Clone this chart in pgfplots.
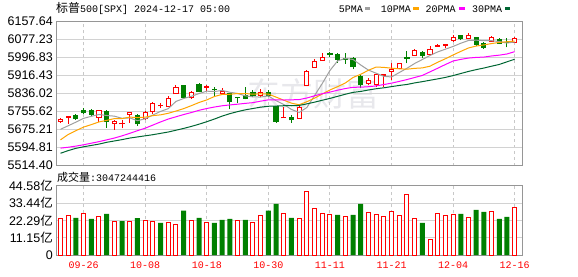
\documentclass[border=0pt]{standalone}
\usepackage{fontspec}
\setmainfont{Liberation Sans}
\newfontfamily\cjk{Noto Sans CJK SC}
\newfontfamily\mono{Liberation Mono}
\usepackage{pgfplots}
\usepackage{pgfplotstable}
\pgfplotsset{compat=1.18}
\definecolor{cred}{RGB}{255,0,0}
\definecolor{cgreen}{RGB}{0,128,0}
\definecolor{ma5}{RGB}{160,160,160}
\definecolor{ma10}{RGB}{255,165,0}
\definecolor{ma20}{RGB}{255,0,255}
\definecolor{ma30}{RGB}{0,102,51}
\definecolor{gridc}{RGB}{210,210,210}
\definecolor{gridv}{RGB}{200,200,200}
\definecolor{framec}{RGB}{150,150,150}
\definecolor{wm}{RGB}{232,232,236}
% up candles (close > open): index, open, high, low, close
\pgfplotstableread{
x O H L C
0 5713 5727 5706 5721
1 5731 5733 5700 5733
5 5730 5762 5709 5762
7 5703 5718 5673 5709
8 5700 5718 5680 5702
9 5743 5752 5706 5752
11 5724 5759 5718 5753
12 5755 5800 5744 5792
13 5781 5795 5770 5783
14 5777 5825 5777 5814
15 5834 5874 5834 5861
17 5819 5849 5813 5841
19 5865 5874 5849 5867
21 5834 5859 5834 5844
26 5829 5855 5819 5841
29 5727 5777 5727 5730
31 5725 5780 5725 5774
32 5871 5941 5871 5934
33 5953 5989 5953 5978
34 5983 6015 5983 5998
40 5881 5904 5874 5896
41 5877 5922 5867 5919
42 5917 5919 5867 5919
43 5935 5972 5897 5942
44 5949 5973 5949 5971
46 6008 6033 6003 6026
48 6011 6048 6011 6033
49 6048 6057 6045 6050
50 6051 6057 6038 6053
51 6072 6097 6068 6087
53 6082 6105 6082 6094
56 6068 6094 6068 6087
59 6065 6087 6065 6080
}\upt
% down candles (close < open)
\pgfplotstableread{
x O H L C
2 5737 5744 5718 5724
3 5762 5771 5744 5750
4 5758 5765 5735 5743
6 5756 5762 5682 5710
10 5737 5744 5691 5700
16 5871 5874 5814 5819
18 5878 5881 5841 5844
20 5856 5866 5825 5853
22 5837 5837 5765 5800
23 5820 5820 5795 5817
24 5829 5866 5810 5814
25 5841 5852 5819 5829
27 5840 5852 5819 5825
28 5780 5780 5706 5710
30 5728 5740 5706 5718
35 6013 6020 5998 6010
36 6008 6015 5974 5989
37 5991 6015 5968 5988
38 5993 5998 5944 5956
39 5914 5919 5859 5874
45 5995 6026 5971 5992
47 6018 6027 5993 6008
52 6093 6097 6075 6080
54 6087 6090 6048 6057
55 6060 6068 6035 6042
57 6078 6082 6057 6060
58 6065 6082 6042 6062
}\downt
\pgfplotsset{common/.style={scale only axis, width=466pt, xmin=-0.584, xmax=59.95,
  xtick={3,11,19,27,35,43,51,59}, major tick length=0pt,
  axis line style={draw=framec,line width=1pt},
  xmajorgrids, ymajorgrids,
  x grid style={draw=gridv,line width=1pt,dash pattern=on 3pt off 3pt},
  y grid style={draw=gridc,line width=1pt},
  yticklabel style={font=\fontsize{12.5}{13}\selectfont,inner sep=0pt,xshift=-3pt}},
  seg/.style 2 args={draw=none, mark=none, error bars/.cd, y dir=plus, y explicit, error mark=none,
  error bar style={line width=#1, draw=#2, solid}}}
\begin{document}
\begin{tikzpicture}
\useasboundingbox (0,0) rectangle (578pt,276pt);
\fill[white] (0,0) rectangle (578pt,276pt);
\node[text=wm,font=\cjk\fontsize{33}{33}\selectfont,inner sep=0pt] at (313pt,182pt) {东方财富};
\begin{axis}[common, at={(56pt,110.5pt)}, anchor=south west, height=144pt,
  ymin=5514.40, ymax=6157.64,
  ytick={5514.40,5594.81,5675.21,5755.62,5836.02,5916.43,5996.83,6077.23,6157.64},
  yticklabels={5514.40,5594.81,5675.21,5755.62,5836.02,5916.43,5996.83,6077.23,6157.64},
  xticklabels={}]
% wicks
\addplot[seg={1pt}{cred}] table[x=x, y=L, y error plus expr={\thisrow{H}-\thisrow{L}}] {\upt};
\addplot[seg={1pt}{cgreen}] table[x=x, y=L, y error plus expr={\thisrow{H}-\thisrow{L}}] {\downt};
% bodies
\addplot[seg={5.2pt}{cred}] table[x=x, y expr={\thisrow{O}-2.23}, y error plus expr={\thisrow{C}-\thisrow{O}+4.47}] {\upt};
\addplot[seg={3.2pt}{white}] table[x=x, y expr={\thisrow{O}+2.23}, y error plus expr={max(\thisrow{C}-\thisrow{O}-4.47,0)}] {\upt};
\addplot[seg={5.2pt}{cgreen}] table[x=x, y expr={\thisrow{C}-2.23}, y error plus expr={\thisrow{O}-\thisrow{C}+4.47}] {\downt};
% moving averages
\addplot[ma5,line width=1pt] coordinates {(0,5676)(1,5692)(2,5708)(3,5725)(4,5734.2)(5,5742.4)(6,5737.8)(7,5734.8)(8,5725.2)(9,5727.0)(10,5714.6)(11,5723.2)(12,5739.8)(13,5756.0)(14,5768.4)(15,5800.6)(16,5813.8)(17,5823.6)(18,5835.8)(19,5846.4)(20,5844.8)(21,5849.8)(22,5841.6)(23,5836.2)(24,5825.6)(25,5820.8)(26,5820.2)(27,5825.2)(28,5803.8)(29,5787.0)(30,5764.8)(31,5751.4)(32,5773.2)(33,5826.8)(34,5880.4)(35,5938.8)(36,5981.8)(37,5992.6)(38,5988.2)(39,5963.4)(40,5940.6)(41,5926.6)(42,5912.8)(43,5910.0)(44,5929.4)(45,5948.6)(46,5970.0)(47,5987.8)(48,6006.0)(49,6021.8)(50,6034.0)(51,6046.2)(52,6060.6)(53,6072.8)(54,6074.2)(55,6072.0)(56,6072.0)(57,6068.0)(58,6061.6)(59,6066.2)};
\addplot[ma10,line width=1pt] coordinates {(0,5629)(1,5653)(2,5670)(3,5686)(4,5697)(5,5709)(6,5716)(7,5724)(8,5724)(9,5730.6)(10,5728.5)(11,5730.5)(12,5737.3)(13,5740.6)(14,5747.7)(15,5757.6)(16,5768.5)(17,5781.7)(18,5795.9)(19,5807.4)(20,5822.7)(21,5831.8)(22,5832.6)(23,5836.0)(24,5836.0)(25,5832.8)(26,5835.0)(27,5833.4)(28,5820.0)(29,5806.3)(30,5792.8)(31,5785.8)(32,5799.2)(33,5815.3)(34,5833.7)(35,5851.8)(36,5866.6)(37,5882.9)(38,5907.5)(39,5921.9)(40,5939.7)(41,5954.2)(42,5952.7)(43,5949.1)(44,5946.4)(45,5944.6)(46,5948.3)(47,5950.3)(48,5958.0)(49,5975.6)(50,5991.3)(51,6008.1)(52,6024.2)(53,6039.4)(54,6048.0)(55,6053.0)(56,6059.1)(57,6064.3)(58,6067.2)(59,6070.2)};
\addplot[ma20,line width=1pt] coordinates {(0,5592)(1,5596)(2,5601)(3,5607)(4,5614)(5,5621)(6,5629)(7,5637)(8,5647)(9,5658)(10,5670)(11,5681)(12,5695)(13,5709)(14,5722)(15,5732)(16,5742)(17,5751)(18,5761)(19,5769.0)(20,5775.6)(21,5781.2)(22,5785.0)(23,5788.3)(24,5791.9)(25,5795.2)(26,5801.8)(27,5807.6)(28,5808.0)(29,5806.9)(30,5807.8)(31,5808.8)(32,5815.9)(33,5825.7)(34,5834.9)(35,5842.3)(36,5850.8)(37,5858.2)(38,5863.8)(39,5864.1)(40,5866.3)(41,5870.0)(42,5876.0)(43,5882.2)(44,5890.1)(45,5898.2)(46,5907.5)(47,5916.6)(48,5932.8)(49,5948.8)(50,5965.5)(51,5981.2)(52,5988.5)(53,5994.3)(54,5997.2)(55,5998.8)(56,6003.7)(57,6007.3)(58,6012.6)(59,6022.9)};
\addplot[ma30,line width=1pt] coordinates {(0,5569)(1,5581)(2,5591)(3,5598)(4,5604)(5,5610)(6,5618)(7,5624)(8,5630)(9,5637)(10,5642)(11,5647)(12,5652)(13,5658)(14,5664)(15,5672)(16,5680)(17,5689)(18,5699)(19,5710)(20,5722)(21,5735)(22,5746)(23,5755)(24,5763)(25,5769)(26,5775)(27,5779)(28,5780)(29,5781.4)(30,5781.3)(31,5782.7)(32,5789.7)(33,5797.3)(34,5805.8)(35,5814.1)(36,5823.4)(37,5832.7)(38,5841.1)(39,5845.2)(40,5851.7)(41,5857.3)(42,5861.5)(43,5866.8)(44,5872.0)(45,5876.4)(46,5883.3)(47,5888.9)(48,5895.2)(49,5901.3)(50,5907.9)(51,5916.0)(52,5925.4)(53,5934.6)(54,5942.7)(55,5949.8)(56,5958.0)(57,5965.8)(58,5977.6)(59,5989.2)};
\end{axis}
\begin{axis}[common, at={(56pt,21pt)}, anchor=south west, height=69pt,
  ymin=0, ymax=44.58,
  ytick={0,11.15,22.29,33.44,44.58},
  yticklabels={0,{11.15{\cjk 亿}},{22.29{\cjk 亿}},{33.44{\cjk 亿}},{44.58{\cjk 亿}}},
  xticklabels={09-26,10-08,10-18,10-30,11-11,11-21,12-04,12-16},
  xticklabel style={font=\mono\fontsize{10}{10}\selectfont,text=cred,inner sep=0pt,yshift=-7pt}]
\addplot[ybar,bar width=4pt,bar shift=0pt,draw=cred,fill=white,line width=1pt] coordinates {(0,23.8)(1,25.7)(3,27.1)(5,25.1)(7,21.9)(9,21.9)(11,22.5)(12,21.9)(14,21.2)(15,19.9)(17,22.3)(19,21.2)(23,22.5)(25,21.2)(26,25.7)(29,27.1)(31,23.8)(32,41.3)(33,30.3)(34,27.1)(35,26.4)(37,25.1)(40,27.7)(41,26.4)(42,25.1)(43,28.3)(44,25.7)(45,39.4)(46,23.8)(48,10.2)(49,27.1)(50,25.7)(51,26.4)(53,24.5)(56,28.3)(59,30.47)};
\addplot[ybar,bar width=5pt,bar shift=0pt,draw=none,fill=cgreen] coordinates {(2,24.0)(4,23.4)(6,26.6)(8,21.9)(10,23.8)(13,20.8)(16,28.6)(18,24.0)(20,20.8)(21,22.7)(22,23.4)(24,22.7)(27,28.6)(28,33.1)(30,24.0)(36,26.0)(38,26.0)(39,33.1)(47,20.8)(52,26.6)(54,29.2)(55,27.9)(57,23.4)(58,24.7)};
\end{axis}
\node[anchor=west,inner sep=0pt] at (56pt,267.7pt) {{\cjk\fontsize{12}{12}\selectfont 标普}{\mono\fontsize{10}{10}\selectfont 500[SPX] 2024-12-17 05:00}};
\node[anchor=west,inner sep=0pt] at (57pt,98.3pt) {{\cjk\fontsize{11}{11}\selectfont 成交量}{\mono\fontsize{10}{10}\selectfont :3047244416}};
\begin{scope}[every node/.style={anchor=west,inner sep=0pt,font=\mono\fontsize{10}{10}\selectfont}]
\node at (338.7pt,267.2pt) {5PMA};
\fill[ma5] (364.7pt,266pt) rectangle (370.3pt,269pt);
\node at (380.7pt,267.2pt) {10PMA};
\fill[ma10] (412.7pt,266pt) rectangle (418.7pt,269pt);
\node at (425.3pt,267.2pt) {20PMA};
\fill[ma20] (459pt,266pt) rectangle (464.7pt,269pt);
\node at (472pt,267.2pt) {30PMA};
\fill[ma30] (504.7pt,266pt) rectangle (510.3pt,269pt);
\end{scope}
\end{tikzpicture}
\end{document}
